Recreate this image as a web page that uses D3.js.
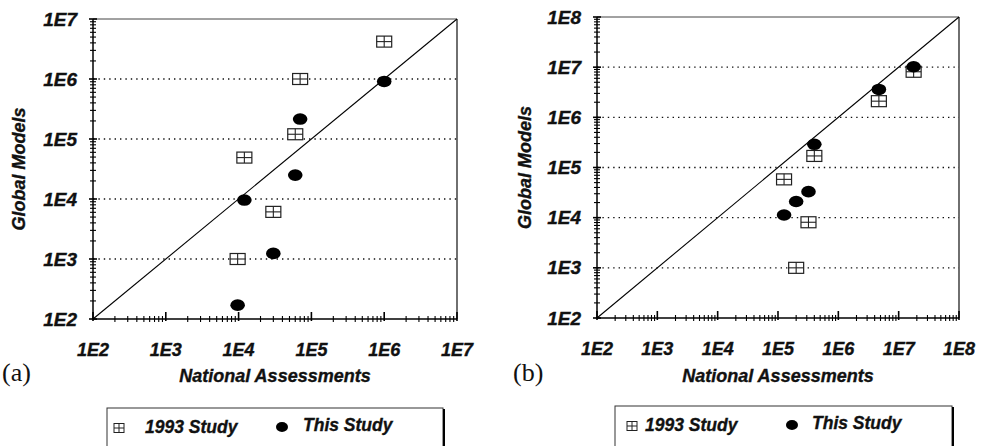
<!DOCTYPE html>
<html>
<head>
<meta charset="utf-8">
<script src="https://cdn.jsdelivr.net/npm/d3@7"></script>
<style>
  html, body { margin: 0; padding: 0; background: #fff; }
  svg { display: block; }
  text { font-family: "Liberation Sans", Arial, sans-serif; font-weight: bold; font-style: italic; fill: #111; stroke: #111; stroke-width: 0.35px; }
  .panel-tag { font-family: "Liberation Serif", "Times New Roman", serif; font-weight: normal; font-style: normal; stroke: none; }
</style>
</head>
<body>
<svg id="chart" width="982" height="446"></svg>
<script>
// Panel (a): national assessments vs global models
const aStudy1993X = [1e6, 7.0e4, 6.0e4, 1.2e4, 3.0e4, 9.7e3];
const aStudy1993Y = [4.2e6, 1.0e6, 1.2e5, 4.9e4, 6.1e3, 1.0e3];
const aThisStudyX = [1e6, 7.0e4, 6.0e4, 1.2e4, 3.0e4, 9.7e3];
const aThisStudyY = [9.1e5, 2.15e5, 2.5e4, 9.6e3, 1.24e3, 170];

// Panel (b)
const bStudy1993X = [1.77e7, 4.7e6, 4.0e5, 1.26e5, 3.2e5, 2.0e5];
const bStudy1993Y = [8.1e6, 2.1e6, 1.7e5, 5.8e4, 8.1e3, 1.0e3];
const bThisStudyX = [1.77e7, 4.7e6, 4.0e5, 3.2e5, 2.0e5, 1.26e5];
const bThisStudyY = [1.02e7, 3.6e6, 2.9e5, 3.3e4, 2.1e4, 1.13e4];

const aDecades = [1e2, 1e3, 1e4, 1e5, 1e6, 1e7];
const bDecades = [1e2, 1e3, 1e4, 1e5, 1e6, 1e7, 1e8];
const decadeLabel = d => "1E" + Math.round(Math.log10(d));

const xTitle = "National Assessments";
const yTitle = "Global Models";
const legendLabels = ["1993 Study", "This Study"];

const svg = d3.select("#chart");

function drawPanel(cfg) {
  const x = d3.scaleLog().domain(cfg.domain).range([cfg.left, cfg.right]);
  const y = d3.scaleLog().domain(cfg.domain).range([cfg.bottom, cfg.top]);
  const g = svg.append("g");

  // dotted decade gridlines
  g.selectAll(".grid").data(cfg.decades.slice(1, -1)).join("line")
    .attr("x1", cfg.left).attr("x2", cfg.right)
    .attr("y1", d => y(d)).attr("y2", d => y(d))
    .attr("stroke", "#111").attr("stroke-width", 1.3)
    .attr("stroke-dasharray", "1.4,4");

  // frame
  g.append("line").attr("x1", cfg.left).attr("x2", cfg.right).attr("y1", cfg.top).attr("y2", cfg.top)
    .attr("stroke", "#444").attr("stroke-width", 1);
  g.append("line").attr("x1", cfg.right).attr("x2", cfg.right).attr("y1", cfg.top).attr("y2", cfg.bottom)
    .attr("stroke", "#222").attr("stroke-width", 1.3);

  // 1:1 line
  g.append("line")
    .attr("x1", x(cfg.domain[0])).attr("y1", y(cfg.domain[0]))
    .attr("x2", x(cfg.domain[1])).attr("y2", y(cfg.domain[1]))
    .attr("stroke", "#000").attr("stroke-width", 1.1);

  // axes lines
  g.append("line").attr("x1", cfg.left).attr("x2", cfg.right).attr("y1", cfg.bottom).attr("y2", cfg.bottom)
    .attr("stroke", "#000").attr("stroke-width", 1.5);
  g.append("line").attr("x1", cfg.left).attr("x2", cfg.left).attr("y1", cfg.top).attr("y2", cfg.bottom)
    .attr("stroke", "#000").attr("stroke-width", 1.5);

  const isMajor = v => Math.abs(Math.log10(v) - Math.round(Math.log10(v))) < 1e-9;

  // x ticks (crossing the axis)
  const xt = x.ticks();
  g.selectAll(".xt").data(xt).join("line")
    .attr("x1", d => x(d)).attr("x2", d => x(d))
    .attr("y1", d => cfg.bottom - (isMajor(d) ? 7 : 3))
    .attr("y2", d => cfg.bottom + (isMajor(d) ? 2 : 3))
    .attr("stroke", "#000").attr("stroke-width", d => isMajor(d) ? 1.6 : 1.1);

  // y ticks (crossing the axis)
  const yt = y.ticks();
  g.selectAll(".yt").data(yt).join("line")
    .attr("y1", d => y(d)).attr("y2", d => y(d))
    .attr("x1", d => cfg.left - (isMajor(d) ? 4 : 3))
    .attr("x2", d => cfg.left + (isMajor(d) ? 4 : 3))
    .attr("stroke", "#000").attr("stroke-width", d => isMajor(d) ? 1.6 : 1.1);

  // tick labels
  g.selectAll(".xl").data(cfg.decades).join("text")
    .attr("x", d => x(d)).attr("y", cfg.bottom + 37)
    .attr("text-anchor", "middle").attr("font-size", 18)
    .text(decadeLabel);
  g.selectAll(".yl").data(cfg.decades).join("text")
    .attr("x", cfg.left - 16).attr("y", d => y(d) + 6.5)
    .attr("text-anchor", "end").attr("font-size", 19)
    .text(decadeLabel);

  // axis titles
  g.append("text")
    .attr("x", (cfg.left + cfg.right) / 2).attr("y", 382)
    .attr("text-anchor", "middle").attr("font-size", 18)
    .text(xTitle);
  g.append("text")
    .attr("transform", `translate(${cfg.yTitleX},${(cfg.top + cfg.bottom) / 2}) rotate(-90)`)
    .attr("text-anchor", "middle").attr("font-size", 18)
    .text(yTitle);

  // panel tag
  g.append("text").attr("class", "panel-tag")
    .attr("x", cfg.tagX).attr("y", 381).attr("font-size", 26)
    .text(cfg.tag);

  // 1993 study markers: boxed cross
  const sq = g.selectAll(".sq").data(d3.zip(cfg.s93x, cfg.s93y)).join("g")
    .attr("transform", d => `translate(${x(d[0])},${y(d[1])})`);
  sq.append("rect").attr("x", -7.5).attr("y", -5.5).attr("width", 15).attr("height", 11)
    .attr("fill", "#fff").attr("stroke", "#222").attr("stroke-width", 1.2);
  sq.append("line").attr("x1", -7.5).attr("x2", 7.5).attr("y1", 0).attr("y2", 0)
    .attr("stroke", "#222").attr("stroke-width", 1.1);
  sq.append("line").attr("x1", 0).attr("x2", 0).attr("y1", -5.5).attr("y2", 5.5)
    .attr("stroke", "#222").attr("stroke-width", 1.1);

  // this study markers: filled ellipses
  g.selectAll(".dot").data(d3.zip(cfg.tsx, cfg.tsy)).join("ellipse")
    .attr("cx", d => x(d[0])).attr("cy", d => y(d[1]))
    .attr("rx", 7.3).attr("ry", 5.8).attr("fill", "#000");

  // legend
  const L = cfg.legend;
  const lg = g.append("g");
  lg.append("rect").attr("x", L.x0).attr("y", L.y0).attr("width", L.x1 - L.x0).attr("height", 60)
    .attr("fill", "#fff").attr("stroke", "#333").attr("stroke-width", 1);
  lg.append("line").attr("x1", L.x1 + 1).attr("x2", L.x1 + 1).attr("y1", L.y0 + 1).attr("y2", 446)
    .attr("stroke", "#000").attr("stroke-width", 2);
  const ly = L.y0 + 19;
  const lsq = lg.append("g").attr("transform", `translate(${L.sqX},${ly + 1})`);
  lsq.append("rect").attr("x", -5).attr("y", -4.5).attr("width", 10).attr("height", 9)
    .attr("fill", "#fff").attr("stroke", "#222").attr("stroke-width", 1);
  lsq.append("line").attr("x1", -5).attr("x2", 5).attr("y1", 0).attr("y2", 0).attr("stroke", "#222");
  lsq.append("line").attr("x1", 0).attr("x2", 0).attr("y1", -4.5).attr("y2", 4.5).attr("stroke", "#222");
  lg.append("text").attr("x", L.t1X).attr("y", ly + 6).attr("font-size", 17.5).text(legendLabels[0]);
  lg.append("ellipse").attr("cx", L.dotX).attr("cy", ly).attr("rx", 6).attr("ry", 5).attr("fill", "#000");
  lg.append("text").attr("x", L.t2X).attr("y", ly + 4).attr("font-size", 17.5).text(legendLabels[1]);
}

drawPanel({
  domain: [1e2, 1e7], decades: aDecades,
  left: 93, right: 457, top: 19, bottom: 319,
  yTitleX: 25, tag: "(a)", tagX: 2,
  s93x: aStudy1993X, s93y: aStudy1993Y, tsx: aThisStudyX, tsy: aThisStudyY,
  legend: { x0: 107, x1: 443, y0: 408, sqX: 119, t1X: 145, dotX: 282, t2X: 303 }
});

drawPanel({
  domain: [1e2, 1e8], decades: bDecades,
  left: 597, right: 959, top: 17, bottom: 318,
  yTitleX: 531, tag: "(b)", tagX: 513,
  s93x: bStudy1993X, s93y: bStudy1993Y, tsx: bThisStudyX, tsy: bThisStudyY,
  legend: { x0: 615, x1: 952, y0: 406, sqX: 632, t1X: 645, dotX: 792, t2X: 812 }
});
</script>
</body>
</html>
